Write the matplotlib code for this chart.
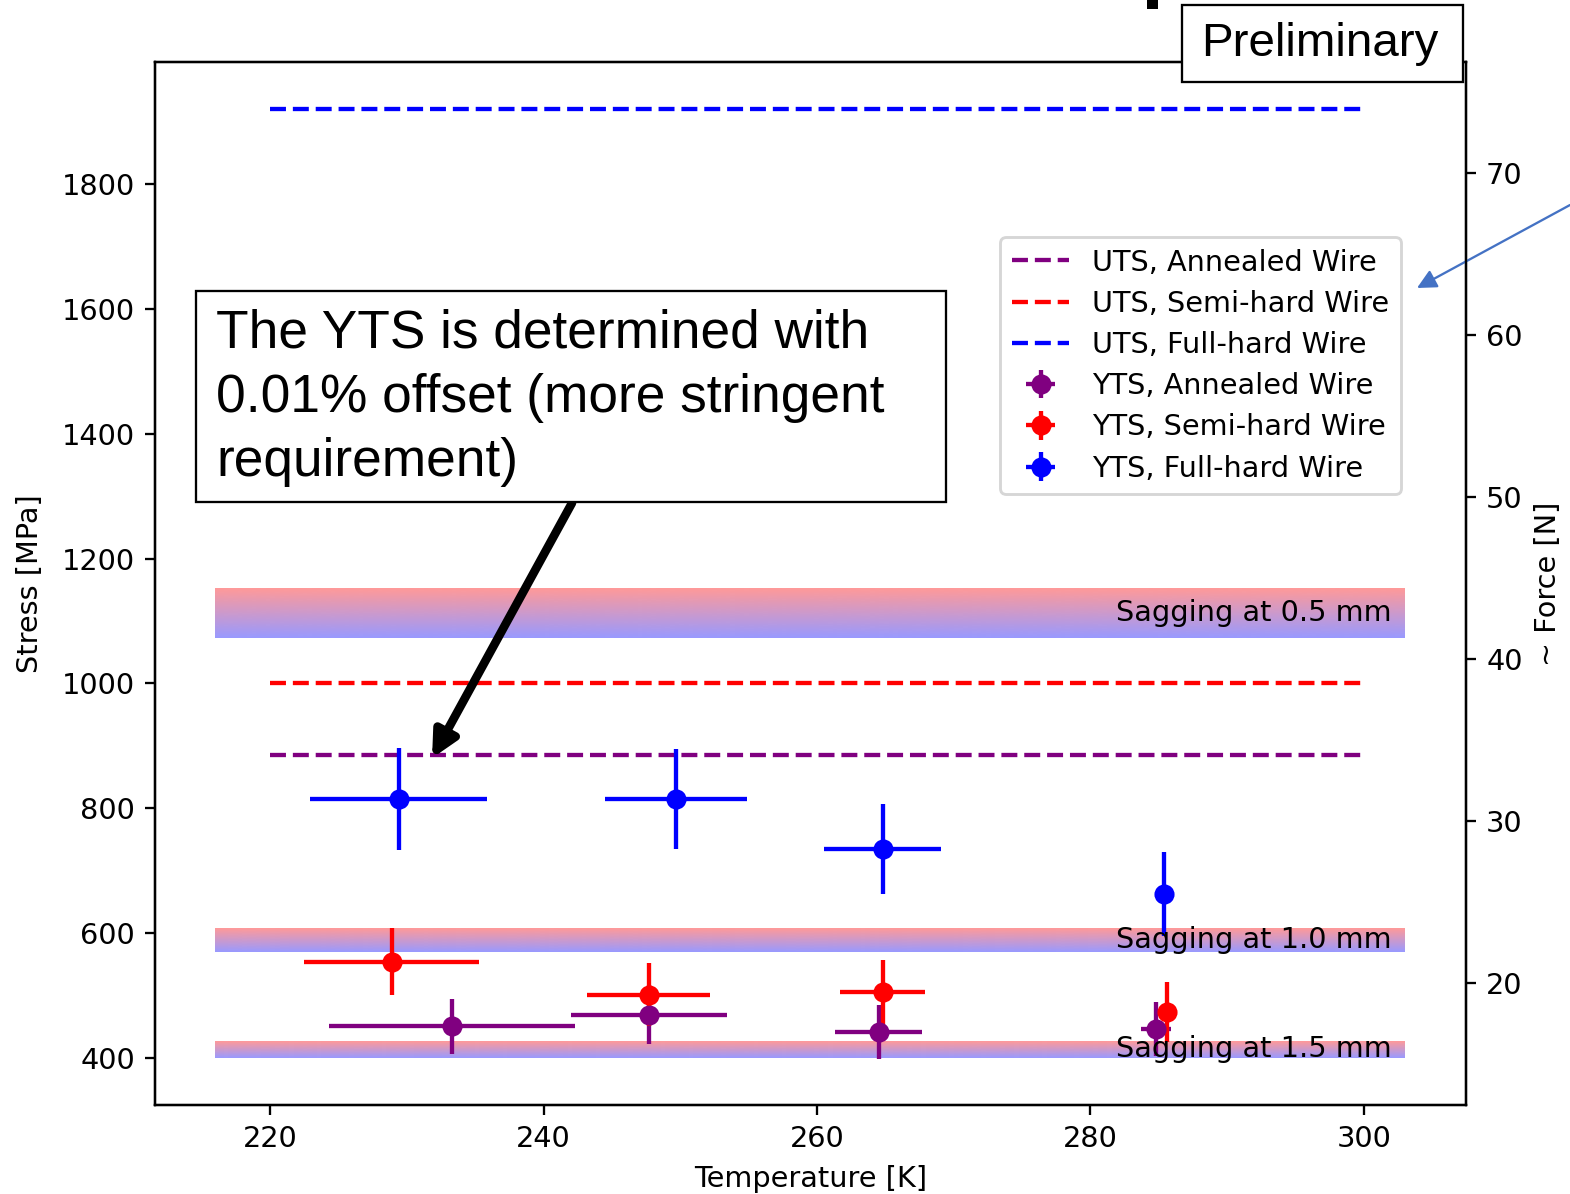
import numpy as np
import matplotlib.pyplot as plt
from matplotlib.patches import Rectangle

# UTS (dashed lines)
tempUTS=[220,300]
nomsUTS=["UTS, Annealed Wire","UTS, Semi-hard Wire","UTS, Full-hard Wire"]
stressUTS=[885,1000,1920]

# YTS (points with error bars)
nomsYTS=["YTS, Annealed Wire","YTS, Semi-hard Wire","YTS, Full-hard Wire"]
tempAnnealed=[233.3,247.7,264.5,284.8]
tempErrAnnealed=[9.0,5.7,3.2,1.1]
stressAnnealed=[450,469,441,446]
stressErrAnnealed=[44,47,43,43]

tempSemi=[228.9,247.7,264.8,285.6]
tempErrSemi=[6.4,4.5,3.1,0.3]
stressSemi=[554,501,505,473]
stressErrSemi=[53,50,51,48]

tempFull=[229.4,249.7,264.8,285.4]
tempErrFull=[6.5,5.2,4.3,0.3]
stressFull=[814,814,735,662]
stressErrFull=[82,80,72,67]

# sagging bands
nomsSagging=["Sagging at 0.5 mm","Sagging at 1.0 mm","Sagging at 1.5 mm"]
basSagging=[1073,570,400]
hautSagging=[1153,608,427]
tempSagging=[216,303]

couleurs=["purple","red","blue"]
facteurForce=0.0385

W,H,dpi=1570,1194,207
fig=plt.figure(figsize=(W/dpi,H/dpi),dpi=dpi)
ax=fig.add_axes([155/W,1-1105/H,(1466-155)/W,(1105-62)/H])

# gradient red -> blue for the bands
grad=np.zeros((64,1,4))
t=np.linspace(0,1,64)
grad[:,0,0]=1-t
grad[:,0,2]=t
grad[:,0,3]=0.4
for i in range(len(nomsSagging)):
    ax.imshow(grad,extent=[tempSagging[0],tempSagging[1],basSagging[i],hautSagging[i]],aspect="auto",interpolation="bilinear",zorder=1)
    ax.text(302,(basSagging[i]+hautSagging[i])/2,nomsSagging[i],ha="right",va="center",fontsize=10,zorder=4)

for i in range(3):
    ax.plot(tempUTS,[stressUTS[i]]*2,linestyle="--",color=couleurs[i],label=nomsUTS[i],zorder=2)

donnees=[(tempAnnealed,stressAnnealed,tempErrAnnealed,stressErrAnnealed),
         (tempSemi,stressSemi,tempErrSemi,stressErrSemi),
         (tempFull,stressFull,tempErrFull,stressErrFull)]
for i,(x,y,xe,ye) in enumerate(donnees):
    ax.errorbar(x,y,xerr=xe,yerr=ye,fmt="o",color=couleurs[i],label=nomsYTS[i],zorder=3)

ax.set_xlim(211.59,307.46)
ax.set_ylim(324,1996)
ax.set_xticks([220,240,260,280,300])
ax.set_yticks([400,600,800,1000,1200,1400,1600,1800])
ax.set_xlabel("Temperature [K]")
ax.set_ylabel("Stress [MPa]",labelpad=6)
ax.legend(loc="upper right",bbox_to_anchor=((1401-155)/1311,(1105-237)/1043),borderaxespad=0,labelspacing=0.46)

ax2=ax.twinx()
ax2.set_ylim(324*facteurForce,1996*facteurForce)
ax2.set_ylabel("~ Force [N]")

# text box + arrow
fig.patches.append(Rectangle((196/W,1-502/H),(946-196)/W,(502-291)/H,transform=fig.transFigure,
                             facecolor="white",edgecolor="black",lw=0.8,zorder=5))
fig.text(216/W,1-398/H,"The YTS is determined with\n0.01% offset (more stringent\nrequirement)",
         family="Liberation Sans",fontsize=18.5,ha="left",va="center",linespacing=1.36,zorder=6)
ax.annotate("",xy=(231.85,880),xycoords="data",xytext=(572/W,1-503/H),textcoords="figure fraction",
            arrowprops=dict(arrowstyle="-|>",lw=3,color="black",mutation_scale=18,shrinkA=0,shrinkB=0),zorder=6)

# Preliminary box
fig.patches.append(Rectangle((1182/W,1-82/H),(1463-1182)/W,(82-5)/H,transform=fig.transFigure,
                             facecolor="white",edgecolor="black",lw=0.8,zorder=5))
fig.text(1320/W,1-44/H,"Preliminary",family="Liberation Sans",fontsize=16.5,ha="center",va="center",zorder=6)
fig.patches.append(Rectangle((1147/W,1-9/H),11/W,9/H,transform=fig.transFigure,facecolor="black",edgecolor="none"))

# blue arrow pointing to legend
ax.annotate("",xy=(1417/W,1-288/H),xycoords="figure fraction",xytext=(1570/W,1-205/H),textcoords="figure fraction",
            arrowprops=dict(arrowstyle="-|>",lw=0.8,color="#4472C4",mutation_scale=14,shrinkA=0,shrinkB=0),annotation_clip=False)

plt.savefig("out.png",dpi=dpi)
